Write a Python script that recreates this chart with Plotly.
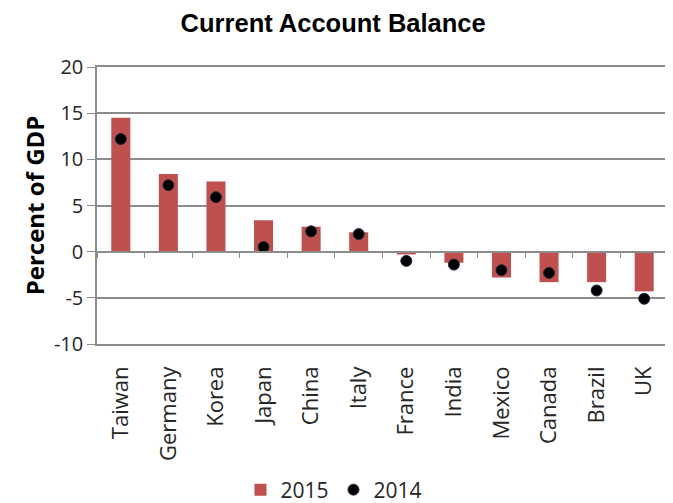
import plotly.graph_objects as go

countries = ["Taiwan", "Germany", "Korea", "Japan", "China", "Italy",
             "France", "India", "Mexico", "Canada", "Brazil", "UK"]
values_2015 = [14.5, 8.4, 7.6, 3.4, 2.7, 2.1, -0.3, -1.2, -2.8, -3.3, -3.3, -4.3]
values_2014 = [12.2, 7.2, 5.9, 0.5, 2.2, 1.9, -1.0, -1.4, -2.0, -2.3, -4.2, -5.1]
y_ticks = [-10, -5, 0, 5, 10, 15, 20]
y_tick_labels = ["-10", "-5", "0", "5", "10", "15", "20"]

FONT = "Open Sans"
TITLE_FONT = "Liberation Sans Narrow, Liberation Sans"
GRID = "#8c8c8c"
TXT = "#262626"

fig = go.Figure()
fig.add_trace(go.Bar(
    x=countries, y=values_2015, name="2015",
    marker=dict(color="#C0504D", line=dict(width=0)),
    width=0.4,
))
fig.add_trace(go.Scatter(
    x=countries, y=values_2014, name="2014", mode="markers",
    marker=dict(color="#000000", size=11, line=dict(color="#1f2a44", width=1)),
))
# invisible trace to carry the zero-line axis with boundary ticks
fig.add_trace(go.Scatter(
    x=countries, y=[0] * len(countries), xaxis="x2", mode="markers",
    marker=dict(opacity=0), showlegend=False, hoverinfo="skip",
))

fig.update_layout(
    width=665, height=495,
    paper_bgcolor="white", plot_bgcolor="white",
    margin=dict(l=89, r=5, t=59, b=159, autoexpand=False),
    title=dict(text="<b>Current Account Balance</b>", x=0.489, xanchor="center",
               y=0.97, yanchor="middle",
               font=dict(family=TITLE_FONT, size=25.5, color="#000000")),
    font=dict(family=FONT, color=TXT),
    showlegend=True,
    legend=dict(orientation="h", x=0.415, xanchor="center", y=-0.527, yanchor="middle",
                font=dict(family=FONT, size=21, color=TXT),
                itemwidth=30, traceorder="normal"),
    xaxis=dict(
        type="category", categoryorder="array", categoryarray=countries,
        tickangle=-90, tickfont=dict(family=FONT, size=22, color=TXT),
        showgrid=False, showline=True, mirror=True, linecolor=GRID, linewidth=1.5,
        ticks="", zeroline=False, automargin=False, ticklabelstandoff=12,
        range=[-0.5, 11.5],
    ),
    xaxis2=dict(
        type="category", categoryorder="array", categoryarray=countries,
        overlaying="x", anchor="free", position=1/3,
        showline=True, linecolor=GRID, linewidth=1.5,
        ticks="outside", tickson="boundaries", ticklen=6, tickcolor=GRID,
        showticklabels=False, showgrid=False, range=[-0.5, 11.5],
    ),
    yaxis=dict(
        range=[-10, 20], tickvals=y_ticks, ticktext=y_tick_labels,
        tickfont=dict(family=FONT, size=20, color=TXT),
        showgrid=True, gridcolor=GRID, gridwidth=1.5,
        showline=True, linecolor=GRID, linewidth=1.5,
        ticks="outside", ticklen=8, tickcolor=GRID,
        zeroline=False, automargin=False,
        title=dict(text="<b>Percent of GDP</b>", font=dict(family=FONT, size=24, color="#000000"),
                   standoff=3),
    ),
    bargap=0.6,
)

fig.write_html("out.html")
